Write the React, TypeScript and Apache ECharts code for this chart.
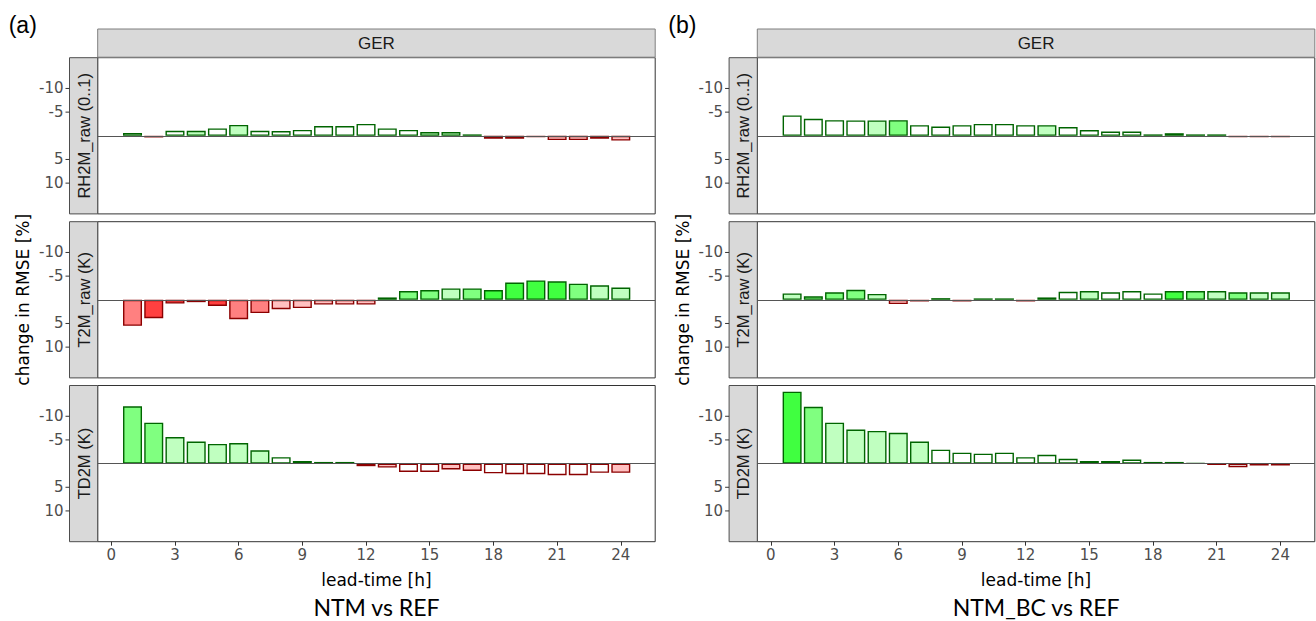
import React, { useEffect, useRef } from "react";
import * as echarts from "echarts";

// ---------- data ----------
const hours = [1, 2, 3, 4, 5, 6, 7, 8, 9, 10, 11, 12, 13, 14, 15, 16, 17, 18, 19, 20, 21, 22, 23, 24];
const xTicks = [0, 3, 6, 9, 12, 15, 18, 21, 24];
const yTicks = [-10, -5, 5, 10];
const rowNames = ["RH2M_raw (0..1)", "T2M_raw (K)", "TD2M (K)"];
const stripTitle = "GER";
const panelTags = ["(a)", "(b)"];
const panelTitles = ["NTM vs REF", "NTM_BC vs REF"];

// fill level codes: 0 = white, 1 = light, 2 = medium, 3 = strong
// Panel (a) NTM vs REF
const rh2mA = [-0.6, 0.35, -1.05, -1.05, -1.55, -2.3, -1.05, -1.0, -1.25, -2.05, -2.05, -2.5, -1.55, -1.25, -0.8, -0.8, -0.3, 0.6, 0.6, 0.3, 0.9, 0.9, 0.6, 1.0];
const rh2mAFill = [0, 0, 0, 1, 0, 1, 0, 0, 0, 0, 0, 0, 0, 0, 1, 1, 0, 0, 0, 0, 1, 1, 0, 1];
const t2mA = [5.5, 3.9, 0.8, 0.5, 1.3, 4.1, 2.8, 2.0, 1.75, 1.0, 1.0, 1.0, -0.5, -1.85, -2.05, -2.4, -2.4, -2.05, -3.65, -4.1, -3.9, -3.4, -3.05, -2.6];
const t2mAFill = [2, 3, 3, 3, 3, 2, 2, 1, 1, 1, 1, 1, 1, 2, 2, 1, 2, 3, 3, 3, 3, 2, 1, 1];
const td2mA = [-12.1, -8.65, -5.6, -4.65, -4.15, -4.35, -2.8, -1.35, -0.55, -0.35, -0.35, 0.55, 0.85, 1.75, 1.75, 1.25, 1.55, 2.05, 2.25, 2.25, 2.45, 2.45, 1.95, 1.95];
const td2mAFill = [2, 2, 1, 1, 1, 1, 1, 0, 1, 0, 0, 1, 1, 0, 0, 1, 1, 0, 0, 0, 0, 0, 0, 1];

// Panel (b) NTM_BC vs REF
const rh2mB = [-4.3, -3.6, -3.3, -3.25, -3.25, -3.3, -2.25, -1.95, -2.25, -2.5, -2.5, -2.25, -2.25, -1.85, -1.2, -0.9, -0.9, -0.3, -0.55, -0.3, -0.3, 0.3, 0.3, 0.3];
const rh2mBFill = [0, 0, 0, 0, 1, 2, 0, 0, 0, 0, 0, 0, 1, 0, 0, 0, 0, 0, 0, 0, 0, 0, 0, 0];
const t2mB = [-1.35, -0.75, -1.6, -2.1, -1.25, 0.9, 0.35, -0.35, 0.35, -0.3, -0.3, 0.35, -0.5, -1.7, -1.85, -1.6, -1.85, -1.35, -1.85, -1.85, -1.85, -1.6, -1.6, -1.6];
const t2mBFill = [1, 2, 2, 2, 1, 1, 0, 0, 0, 0, 0, 0, 1, 0, 1, 0, 0, 0, 3, 2, 1, 2, 1, 1];
const td2mB = [-15.2, -12.0, -8.65, -7.2, -6.9, -6.5, -4.65, -2.95, -2.3, -2.1, -2.3, -1.35, -1.85, -1.0, -0.55, -0.55, -0.85, -0.35, -0.35, -0.1, 0.3, 0.75, 0.4, 0.4];
const td2mBFill = [3, 2, 1, 1, 1, 1, 1, 0, 0, 0, 0, 0, 0, 0, 1, 1, 0, 0, 0, 0, 0, 0, 0, 0];

const panelValues = [
  [rh2mA, t2mA, td2mA],
  [rh2mB, t2mB, td2mB],
];
const panelFills = [
  [rh2mAFill, t2mAFill, td2mAFill],
  [rh2mBFill, t2mBFill, td2mBFill],
];

// ---------- styles ----------
const greenFills = ["#ffffff", "#c0ffc0", "#80ff80", "#40ff40"];
const redFills = ["#ffffff", "#ffc0c0", "#ff8080", "#ff4040"];
const greenEdge = "#006400";
const redEdge = "#8b0000";
const AX_FONT = "DejaVu Sans";
const STRIP_FONT = "Liberation Sans";

const panelLefts = [97.7, 757.3];
const plotW = 557.5;
const stripW = 28.2;
const rowTops = [57.7, 221.7, 385.5];
const rowH = 156.2;
const yLim = 16.5;

function buildOption() {
  const grids: any[] = [];
  const xAxes: any[] = [];
  const yAxes: any[] = [];
  const series: any[] = [];
  const graphics: any[] = [];

  for (let p = 0; p < 2; p++) {
    const L = panelLefts[p];
    graphics.push({
      type: "text",
      x: L - 89,
      y: 25,
      style: { text: panelTags[p], fill: "#000", fontSize: 23, fontFamily: STRIP_FONT, align: "left", verticalAlign: "middle" },
    });
    graphics.push({
      type: "rect",
      shape: { x: L, y: 29, width: plotW, height: 28.2 },
      style: { fill: "#d9d9d9", stroke: "#7f7f7f", lineWidth: 1 },
    });
    graphics.push({
      type: "text",
      x: L + plotW / 2,
      y: 43.5,
      style: { text: stripTitle, fill: "#1a1a1a", fontSize: 17, fontFamily: STRIP_FONT, align: "center", verticalAlign: "middle" },
    });
    graphics.push({
      type: "text",
      x: L + plotW / 2,
      y: 607,
      style: { text: panelTitles[p], fill: "#000", fontSize: 23, fontFamily: "Lato", align: "center", verticalAlign: "middle" },
    });

    for (let r = 0; r < 3; r++) {
      const i = p * 3 + r;
      const top = rowTops[r];
      graphics.push({
        type: "rect",
        shape: { x: L - stripW, y: top, width: stripW, height: rowH },
        style: { fill: "#d9d9d9", stroke: "#4d4d4d", lineWidth: 1 },
      });
      graphics.push({
        type: "text",
        x: L - stripW / 2,
        y: top + rowH / 2,
        rotation: Math.PI / 2,
        style: { text: rowNames[r], fill: "#1a1a1a", fontSize: 16.5, fontFamily: STRIP_FONT, align: "center", verticalAlign: "middle" },
      });

      grids.push({
        left: L,
        top,
        width: plotW,
        height: rowH,
        show: true,
        borderColor: "#333",
        borderWidth: 1,
        backgroundColor: "#fff",
      });
      xAxes.push({
        gridIndex: i,
        type: "value",
        min: -0.64,
        max: 25.62,
        show: r === 2,
        position: "bottom",
        axisLine: { show: false, onZero: false },
        axisTick: { show: true, length: 4, customValues: xTicks, lineStyle: { color: "#333" } },
        axisLabel: { customValues: xTicks, color: "#4d4d4d", fontSize: 15, fontFamily: AX_FONT, margin: 6 },
        splitLine: { show: false },
        name: r === 2 ? "lead-time [h]" : "",
        nameLocation: "middle",
        nameGap: 30,
        nameTextStyle: { color: "#000", fontSize: 17, fontFamily: AX_FONT },
      });
      yAxes.push({
        gridIndex: i,
        type: "value",
        inverse: true,
        min: -yLim,
        max: yLim,
        position: "left",
        axisLine: { show: false, onZero: false },
        axisTick: { show: false },
        axisLabel: { customValues: yTicks, color: "#4d4d4d", fontSize: 15, fontFamily: AX_FONT, margin: stripW + 6 },
        splitLine: { show: false },
        name: r === 1 ? "change in RMSE [%]" : "",
        nameLocation: "middle",
        nameRotate: 90,
        nameGap: 38 + stripW,
        nameTextStyle: { color: "#000", fontSize: 17, fontFamily: AX_FONT },
      });

      const vals = panelValues[p][r];
      const fills = panelFills[p][r];
      series.push({
        type: "bar",
        xAxisIndex: i,
        yAxisIndex: i,
        barWidth: 19,
        silent: true,
        data: hours.map((h, k) => {
          const v = vals[k];
          const neg = v < 0;
          return {
            value: [h, v],
            itemStyle: {
              color: neg ? greenFills[fills[k]] : redFills[fills[k]],
              borderColor: neg ? greenEdge : redEdge,
              borderWidth: 1.4,
            },
          };
        }),
        markLine: {
          silent: true,
          symbol: ["none", "none"],
          label: { show: false },
          lineStyle: { color: "#555", width: 1, type: "solid" },
          data: [{ yAxis: 0 }],
        },
      });
    }
  }

  return {
    animation: false,
    backgroundColor: "#fff",
    grid: grids,
    xAxis: xAxes,
    yAxis: yAxes,
    series,
    graphic: graphics,
  };
}

export default function App() {
  const ref = useRef<HTMLDivElement>(null);
  useEffect(() => {
    const chart = echarts.init(ref.current!, undefined, { renderer: "svg" });
    const option = buildOption();
    chart.setOption(option as any);
    // y tick marks sit just left of each row strip; positions come from the axis scale
    const ticks: any[] = [];
    for (let p = 0; p < 2; p++) {
      const x2 = panelLefts[p] - stripW;
      for (let r = 0; r < 3; r++) {
        const i = p * 3 + r;
        yTicks.forEach((v) => {
          const y = chart.convertToPixel({ yAxisIndex: i } as any, v) as number;
          ticks.push({
            type: "line",
            silent: true,
            shape: { x1: x2 - 4, y1: y, x2: x2, y2: y },
            style: { stroke: "#333", lineWidth: 1 },
          });
        });
      }
    }
    chart.setOption({ graphic: [...option.graphic, ...ticks] } as any);
    return () => chart.dispose();
  }, []);
  return <div ref={ref} style={{ position: "absolute", left: 0, top: 0, width: 1316, height: 621 }} />;
}
